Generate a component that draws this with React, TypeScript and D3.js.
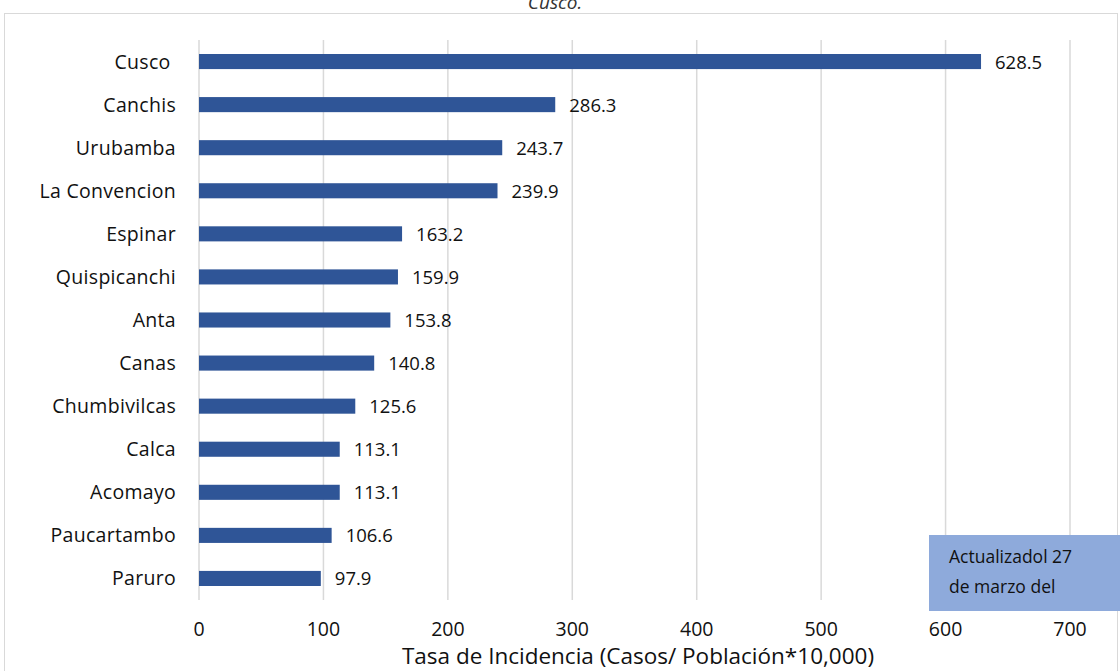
import React from "react";
import * as d3 from "d3";

const categories = ["Cusco ", "Canchis", "Urubamba", "La Convencion", "Espinar", "Quispicanchi", "Anta", "Canas", "Chumbivilcas", "Calca", "Acomayo", "Paucartambo", "Paruro"];
const values = [628.5, 286.3, 243.7, 239.9, 163.2, 159.9, 153.8, 140.8, 125.6, 113.1, 113.1, 106.6, 97.9];
const xTicks = [0, 100, 200, 300, 400, 500, 600, 700];
const titleText = "Cusco.";
const axisTitle = "Tasa de Incidencia (Casos/ Población*10,000)";
const noteLines = ["Actualizadol 27", "de marzo del"];

export default function App() {
  const W = 1120, H = 671;
  const x = d3.scaleLinear().domain([0, 700]).range([199, 1070]);
  const y = d3.scaleBand().domain(categories).range([40, 600]).paddingInner(0.65).paddingOuter(0.325);
  const font = "'Open Sans', sans-serif";
  return (
    <svg width={W} height={H} style={{ position: "absolute", left: 0, top: 0, background: "#fff" }} fontFamily={font}>
      <rect x={4.5} y={13.5} width={1113} height={700} fill="none" stroke="#d9d9d9" />
      <text x={555} y={9} textAnchor="middle" fontStyle="italic" fontSize={19} fill="#333">{titleText}</text>
      {xTicks.map(t => (
        <g key={t}>
          <line x1={x(t)} x2={x(t)} y1={40} y2={600} stroke="#d9d9d9" strokeWidth={1.5} />
          <text x={x(t)} y={636} textAnchor="middle" fontSize={19.5} fill="#111">{t}</text>
        </g>
      ))}
      {categories.map((c, i) => {
        const yy = y(c)!;
        const bh = y.bandwidth();
        return (
          <g key={c}>
            <rect x={x(0)} y={yy} width={x(values[i]) - x(0)} height={bh} fill="#2f5597" />
            <text x={x(values[i]) + 14} y={yy + bh / 2 + 7} fontSize={18.5} fill="#111">{values[i].toFixed(1)}</text>
            <text x={176} y={yy + bh / 2 + 7} textAnchor="end" fontSize={19.5} letterSpacing={0.3} fill="#111" style={{ whiteSpace: "pre" }}>{c}</text>
          </g>
        );
      })}
      <text x={638} y={664} textAnchor="middle" fontSize={22.5} fill="#111">{axisTitle}</text>
      <rect x={929} y={535} width={200} height={76} fill="#8eaadb" />
      {noteLines.map((l, i) => (
        <text key={i} x={949} y={563 + i * 30} fontSize={17.5} fill="#111">{l}</text>
      ))}
    </svg>
  );
}
